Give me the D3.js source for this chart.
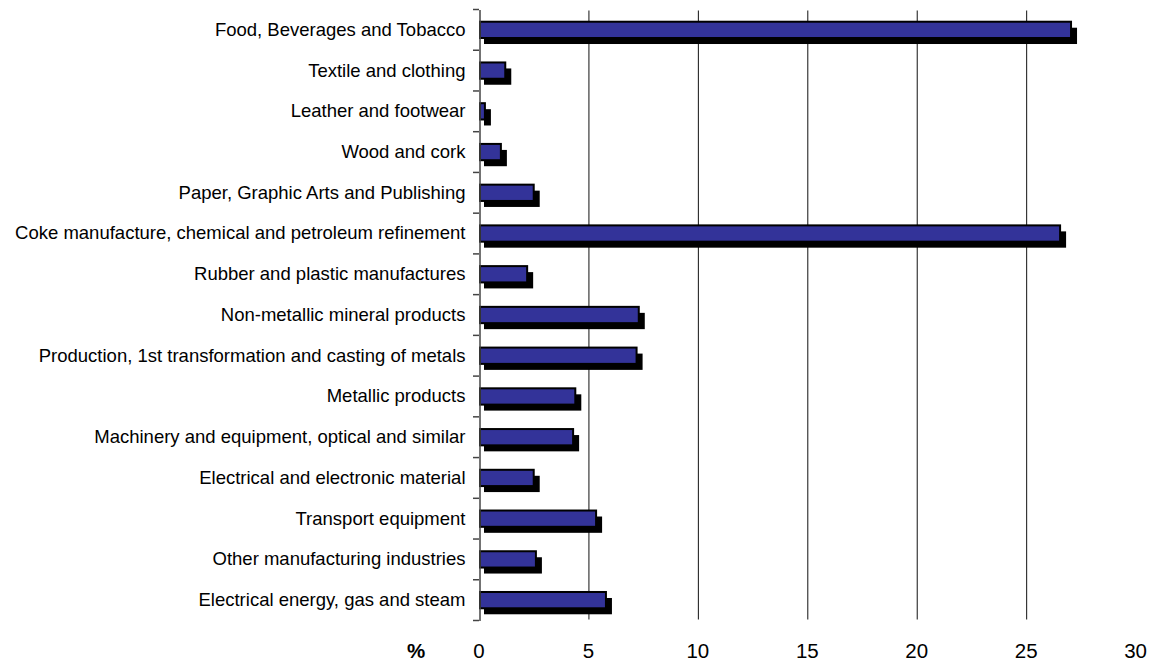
<!DOCTYPE html>
<head>
<meta charset="UTF-8">
<style>
body { margin: 0; background: white; }
text { font-family: "Liberation Sans", Arial, sans-serif; }
</style>
</head>
<svg width="1155" height="664"></svg>
<script src="https://d3js.org/d3.v7.min.js"></script>
<script>
var categories = [
    "Food, Beverages and Tobacco",
    "Textile and clothing",
    "Leather and footwear",
    "Wood and cork",
    "Paper, Graphic Arts and Publishing",
    "Coke manufacture, chemical and petroleum refinement ",
    "Rubber and plastic manufactures",
    "Non-metallic mineral products",
    "Production, 1st transformation and casting of metals",
    "Metallic products",
    "Machinery and equipment, optical and similar",
    "Electrical and electronic material",
    "Transport equipment",
    "Other manufacturing industries",
    "Electrical energy, gas and steam"
];
var values = [27.05, 1.2, 0.27, 1.0, 2.5, 26.55, 2.2, 7.3, 7.2, 4.4, 4.3, 2.5, 5.35, 2.6, 5.8];
var xTicks = [0, 5, 10, 15, 20, 25, 30];

var svg = d3.select("svg");
var plotLeft = 479, plotRight = 1135.6, plotTop = 9.5, plotBottom = 620.5;

var x = d3.scaleLinear().domain([0, 30]).range([plotLeft, plotRight]);
var y = d3.scaleBand().domain(categories).range([plotTop, plotBottom]).paddingInner(0.6).paddingOuter(0.3);
var band = d3.scaleBand().domain(categories).range([plotTop, plotBottom]);

// gridlines
svg.append("g").selectAll("line")
    .data(xTicks.filter(function(d) { return d > 0 && d < 30; }))
    .enter().append("line")
    .attr("x1", function(d) { return x(d) + 0.5; })
    .attr("x2", function(d) { return x(d) + 0.5; })
    .attr("y1", plotTop + 1)
    .attr("y2", plotBottom - 1)
    .attr("stroke", "#111")
    .attr("stroke-width", 1);

var dx = 5, dy = 6;

// shadows
svg.append("g").selectAll("rect")
    .data(values)
    .enter().append("rect")
    .attr("x", x(0) + dx)
    .attr("y", function(d, i) { return y(categories[i]) + dy; })
    .attr("width", function(d) { return x(d) - x(0) + 1; })
    .attr("height", y.bandwidth())
    .attr("fill", "black");

// bars
svg.append("g").selectAll("rect")
    .data(values)
    .enter().append("rect")
    .attr("x", x(0) + 1)
    .attr("y", function(d, i) { return y(categories[i]); })
    .attr("width", function(d) { return x(d) - x(0) - 1; })
    .attr("height", y.bandwidth())
    .attr("fill", "#333399")
    .attr("stroke", "black")
    .attr("stroke-width", 2);

// category axis
var yAxis = d3.axisLeft(band).tickSize(0).tickPadding(14);
var ga = svg.append("g").attr("transform", "translate(" + (plotLeft + 0.5) + ",0)").call(yAxis);
ga.select(".domain").attr("stroke", "#444").attr("stroke-width", 1.5);
ga.selectAll("text").attr("font-size", 18.5).attr("fill", "black")
    .style("font-family", "'Liberation Sans', Arial, sans-serif");

// ticks at band boundaries
var bounds = categories.map(function(c) { return band(c); }).concat([plotBottom]);
svg.append("g").selectAll("line")
    .data(bounds)
    .enter().append("line")
    .attr("x1", plotLeft - 6)
    .attr("x2", plotLeft)
    .attr("y1", function(d) { return d; })
    .attr("y2", function(d) { return d; })
    .attr("stroke", "#444")
    .attr("stroke-width", 1.5);

// value tick labels
svg.append("g").selectAll("text")
    .data(xTicks)
    .enter().append("text")
    .attr("x", function(d) { return x(d); })
    .attr("y", 658)
    .attr("text-anchor", "middle")
    .attr("font-size", 20.5)
    .text(function(d) { return d; });

svg.append("text")
    .attr("x", 416)
    .attr("y", 658)
    .attr("text-anchor", "middle")
    .attr("font-size", 20.5)
    .attr("font-weight", "bold")
    .text("%");
</script>
